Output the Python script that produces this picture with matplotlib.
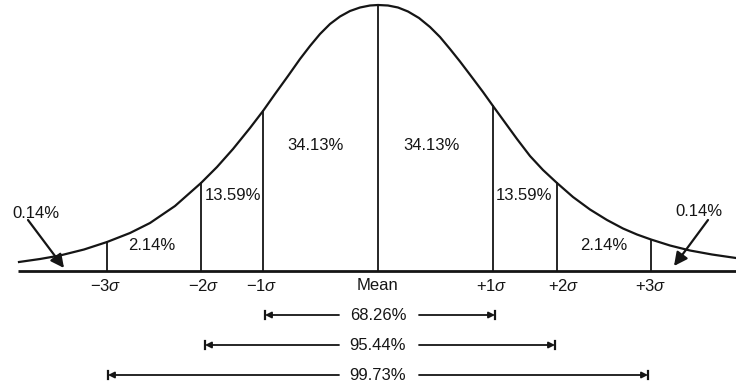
import matplotlib
matplotlib.use("Agg")
import matplotlib.pyplot as plt

plt.rcParams['font.family'] = ['Liberation Sans', 'DejaVu Sans']
plt.rcParams['mathtext.fontset'] = 'custom'
plt.rcParams['mathtext.rm'] = 'Liberation Sans'
plt.rcParams['mathtext.it'] = 'Liberation Sans:italic'

# curve: x position and height above the baseline
curve_x = [19, 40, 60, 84, 107, 130, 150, 175, 201, 217, 233, 250, 263, 275,
           288, 300, 310, 320, 330, 340, 350, 360, 370, 378,
           388, 398, 408, 419, 430, 440, 450, 460, 471, 483, 493, 505, 517,
           530, 543, 557, 573, 590, 607, 623, 637, 651, 670, 690, 712, 736]
curve_h = [9, 12, 15.5, 21.5, 29, 38, 48, 65, 88, 104, 122, 143, 160, 177,
           195, 212, 225, 237, 247, 254.5, 260, 263.5, 265.5, 266,
           265.5, 263.5, 259.5, 253, 244, 234, 222, 209.5, 195, 179, 165,
           148.5, 132, 115, 101, 88, 74, 61.5, 51, 42.5, 36.5, 31.5, 25.5,
           20.5, 16.5, 13]

# boundary lines (-3s .. +3s) and their heights
bound_x = [107, 201, 263, 378, 493, 557, 651]
bound_h = [29, 88, 160, 266, 165, 88, 31.5]
bound_labels = [r'$-3\sigma$', r'$-2\sigma$', r'$-1\sigma$', 'Mean',
                r'$+1\sigma$', r'$+2\sigma$', r'$+3\sigma$']

area_labels = ['2.14%', '13.59%', '34.13%', '34.13%', '13.59%', '2.14%']
tail_label = '0.14%'
range_labels = ['68.26%', '95.44%', '99.73%']

ink = '#151515'

fig = plt.figure(figsize=(7.36, 3.90), dpi=100)
ax = fig.add_axes([0, 0, 1, 1])
ax.set_xlim(0, 736)
ax.set_ylim(-119, 271)
ax.axis('off')

# baseline and curve
ax.plot([18, 736], [0, 0], color=ink, lw=2.0, solid_capstyle='butt')
ax.plot(curve_x, curve_h, color=ink, lw=1.6, solid_joinstyle='round')

for x, h in zip(bound_x, bound_h):
    ax.plot([x, x], [0, h], color=ink, lw=1.3)

fs = 12
# tick labels under the baseline
lab_x = [106, 204, 262, 378, 492, 564, 651]
for x, lab in zip(lab_x, bound_labels):
    ax.text(x, -15, lab, ha='center', va='center', fontsize=fs, color=ink)

# area percentages
area_pos = [(152, 25), (233, 76), (316, 125), (431, 125), (524, 75), (604, 26)]
for (x, y), lab in zip(area_pos, area_labels):
    ax.text(x, y, lab, ha='center', va='center', fontsize=fs, color=ink)

# tail labels with arrows
ax.text(36, 58, tail_label, ha='center', va='center', fontsize=fs, color=ink)
ax.text(699, 59, tail_label, ha='center', va='center', fontsize=fs, color=ink)
arrow = dict(arrowstyle='-|>', color=ink, lw=1.6, mutation_scale=20,
             shrinkA=0, shrinkB=0)
ax.annotate('', xy=(64, 3), xytext=(28, 51), arrowprops=arrow)
ax.annotate('', xy=(674, 5), xytext=(708, 51), arrowprops=arrow)

# range brackets
range_y = [-44, -74, -104]
range_ends = [(265, 495), (205, 555), (108, 648)]
bar = dict(arrowstyle='-|>', color=ink, lw=1.3, mutation_scale=9,
           shrinkA=0, shrinkB=0)
for y, (l, r), lab in zip(range_y, range_ends, range_labels):
    ax.text(378, y, lab, ha='center', va='center', fontsize=fs, color=ink)
    ax.annotate('', xy=(l, y), xytext=(339, y), arrowprops=bar)
    ax.annotate('', xy=(r, y), xytext=(419, y), arrowprops=bar)
    ax.plot([l, l], [y - 4, y + 4], color=ink, lw=1.6)
    ax.plot([r, r], [y - 4, y + 4], color=ink, lw=1.6)

fig.savefig('out.png', dpi=100)
